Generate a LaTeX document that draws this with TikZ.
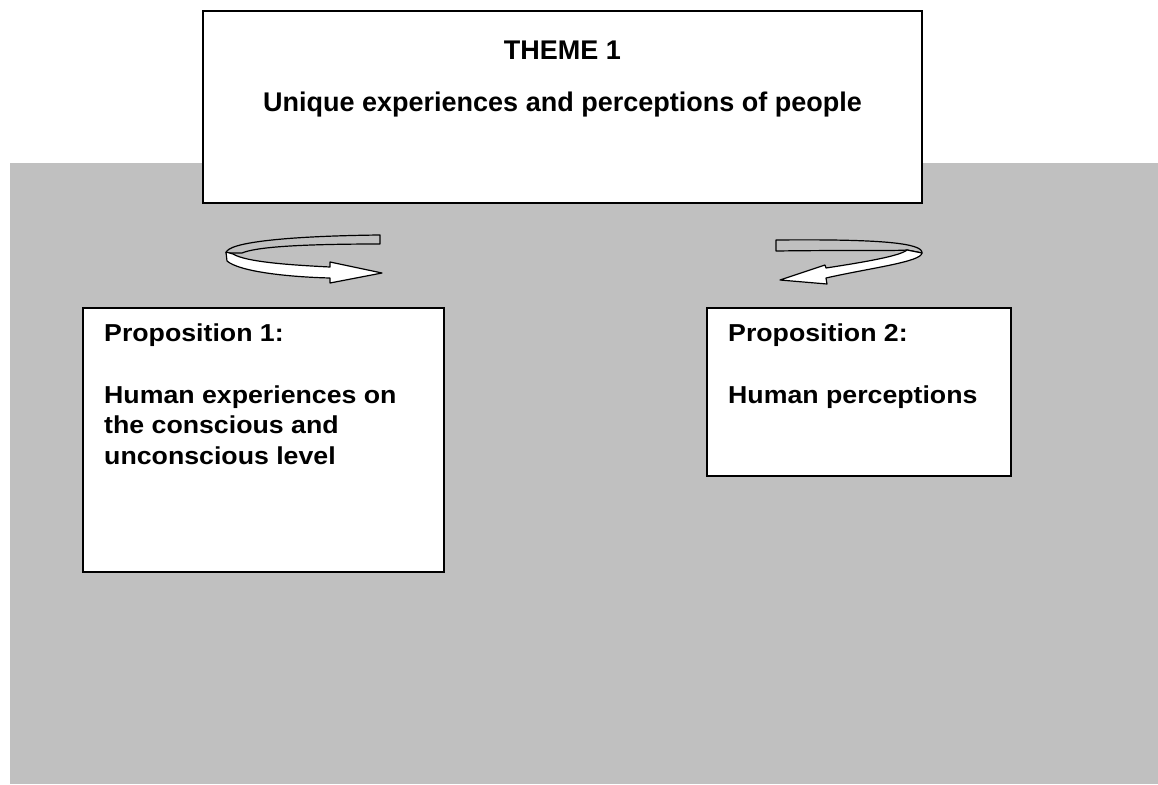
\documentclass[tikz,border=0pt]{standalone}
\usepackage{fontspec}
\setmainfont{Liberation Sans}
\newfontfamily\propfont[FakeStretch=1.09]{Liberation Sans}
\usetikzlibrary{positioning}
\usetikzlibrary{calc}
\definecolor{panelgray}{RGB}{192,192,192}
\tikzset{box/.style={draw, line width=1.6pt, fill=white, inner sep=0pt}}
\tikzset{themetext/.style={inner sep=0pt, align=center, font=\fontsize{27}{30}\selectfont\bfseries}}
\tikzset{proptext/.style={inner sep=0pt, align=left, font=\propfont\fontsize{24.5}{30.5}\selectfont\bfseries}}
\tikzset{ribbon/.style={draw, line width=1.2pt, line join=round}}

\begin{document}
\begin{tikzpicture}[x=1pt,y=-1pt]
\useasboundingbox (0,0) rectangle (1158,784);
\fill[panelgray] (10,163) rectangle (1158,784);

\node[box, minimum width=719pt, minimum height=192pt] (theme) at (562.5,107) {};
\node[box, minimum width=361pt, minimum height=264pt, anchor=north west] (prop1) at (82,307) {};
\node[box, minimum width=304pt, minimum height=168pt, anchor=north west] (prop2) at (706,307) {};

\node[themetext, anchor=north] (themelabel) at ($(theme.north)+(0,31)$)
 {THEME 1\\[22pt]Unique experiences and perceptions of people};
\node[proptext, anchor=north west] (prop1label) at ($(prop1.north west)+(22,17)$)
 {Proposition 1:\\[31pt]Human experiences on\\the conscious and\\unconscious level};
\node[proptext, anchor=north west] (prop2label) at ($(prop2.north west)+(22,17)$)
 {Proposition 2:\\[31pt]Human perceptions};

% curled arrow on the left
\filldraw[ribbon, fill=panelgray] (380,235) -- (380,244)
 .. controls (300,244) and (256,247) .. (242,253) -- (226,253)
 .. controls (227,242) and (290,236) .. (380,235) -- cycle;
\filldraw[ribbon, fill=white] (226,252) -- (227,261)
 .. controls (240,272) and (290,277) .. (330,278)
 -- (330,283) -- (382,273) -- (330,262) -- (330,267)
 .. controls (290,265) and (246,262) .. (233,254) -- cycle;

% curled arrow on the right
\filldraw[ribbon, fill=panelgray] (776,240) -- (776,251)
 .. controls (850,250) and (895,251) .. (907,250) -- (922,253)
 .. controls (923,243) and (880,239) .. (776,240) -- cycle;
\filldraw[ribbon, fill=white] (922,253)
 .. controls (921,262) and (870,268) .. (826,278)
 -- (827,284) -- (780,280) -- (825,265) -- (826,268)
 .. controls (865,262) and (900,256) .. (907,250) -- cycle;

\end{tikzpicture}
\end{document}
